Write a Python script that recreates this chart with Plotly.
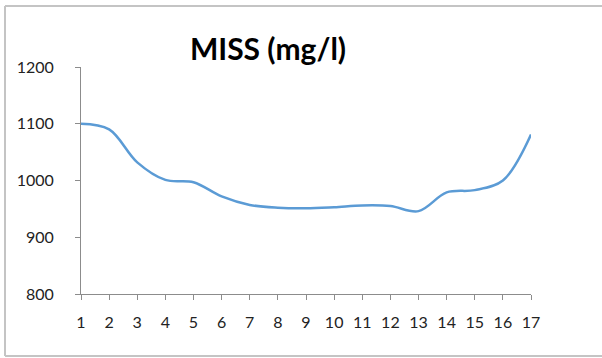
import plotly.graph_objects as go

categories = list(range(1, 18))
miss_values = [1100, 1090, 1032, 1001, 997, 972, 957, 952, 951, 953, 956, 955, 946, 979, 983, 1000, 1081]
title_text = "MISS (mg/l)"

L, R, T, B = 81, 531, 67, 294
W, H = 602, 358

def px_x(p):
    return (p - L) / (R - L)

def px_y(p):
    return (B - p) / (B - T)

fig = go.Figure()
fig.add_trace(go.Scatter(
    x=categories, y=miss_values, mode="lines",
    line=dict(color="#5b9bd5", width=2.5, shape="spline", smoothing=1.0),
    hoverinfo="skip", showlegend=False,
))

frame_color = "#c4c4c4"
shapes = [
    dict(type="line", xref="paper", yref="paper", x0=px_x(5), x1=px_x(5), y0=px_y(6), y1=px_y(356),
         line=dict(color=frame_color, width=2)),
    dict(type="line", xref="paper", yref="paper", x0=px_x(5), x1=px_x(602), y0=px_y(6), y1=px_y(6),
         line=dict(color=frame_color, width=2)),
    dict(type="line", xref="paper", yref="paper", x0=px_x(5), x1=px_x(602), y0=px_y(356), y1=px_y(356),
         line=dict(color=frame_color, width=2)),
]

font_family = "Lato, 'Open Sans', sans-serif"
fig.update_layout(
    width=W, height=H,
    margin=dict(l=L, r=W - R, t=T, b=H - B, pad=0),
    paper_bgcolor="white", plot_bgcolor="white",
    title=dict(text=f"<b>{title_text}</b>", x=268 / W, xref="container", xanchor="center",
               y=1 - 49 / H, yref="container", yanchor="middle",
               font=dict(family=font_family, size=30, color="#000000")),
    shapes=shapes,
    xaxis=dict(range=[1, 17], tickmode="array", tickvals=categories, ticktext=[str(c) for c in categories],
               showgrid=False, zeroline=False, showline=True, linecolor="#8c8c8c", linewidth=1,
               ticks="outside", ticklen=5, tickcolor="#8c8c8c", tickwidth=1,
               tickfont=dict(family=font_family, size=16, color="#222222"), ticklabelstandoff=9),
    yaxis=dict(range=[800, 1200], tickmode="array", tickvals=[800, 900, 1000, 1100, 1200],
               showgrid=False, zeroline=False, showline=True, linecolor="#8c8c8c", linewidth=1,
               ticks="outside", ticklen=5, tickcolor="#8c8c8c", tickwidth=1,
               tickfont=dict(family=font_family, size=16, color="#222222"), ticklabelstandoff=18),
)

fig.write_html("out.html")
